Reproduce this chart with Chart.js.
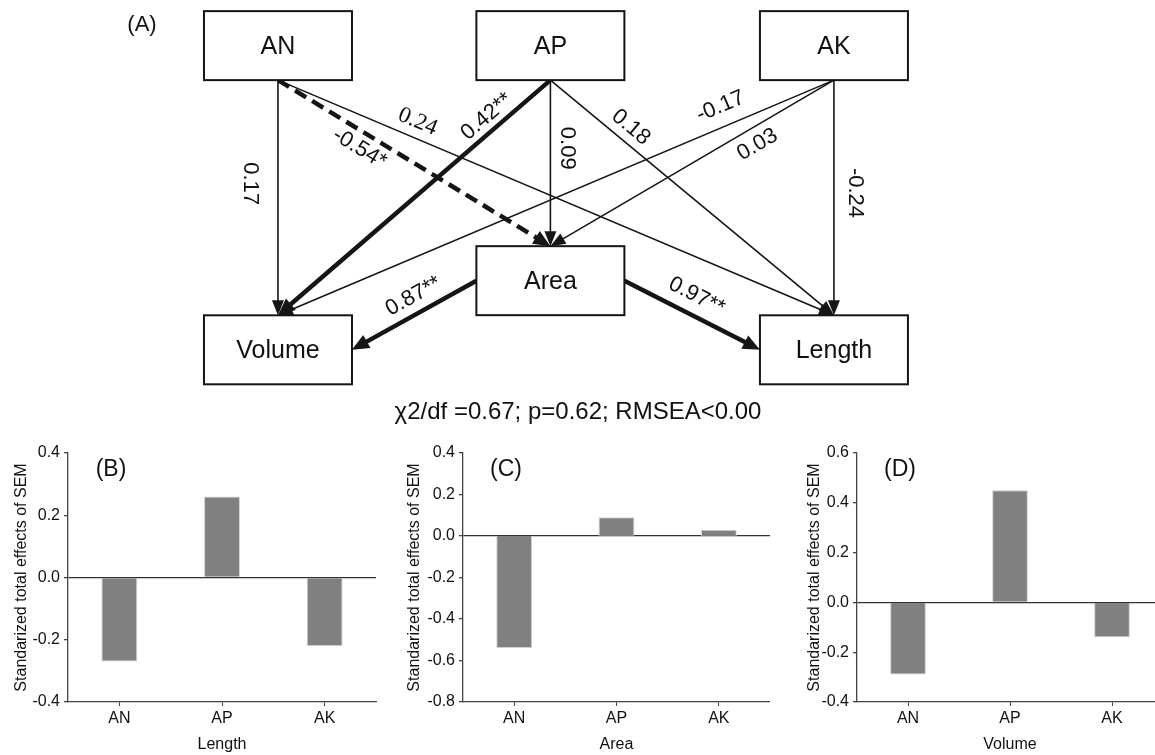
<!DOCTYPE html>
<html>
<head>
<meta charset="utf-8">
<script src="https://cdn.jsdelivr.net/npm/chart.js@4.4.1/dist/chart.umd.min.js"></script>
<style>
  html, body { margin: 0; padding: 0; background: #fff; width: 1155px; height: 755px; overflow: hidden; }
  canvas { position: absolute; }
</style>
</head>
<body>
<canvas id="sem" width="1155" height="430" style="left:0px;top:0px"></canvas>
<canvas id="barB" width="385" height="325" style="left:0px;top:430px"></canvas>
<canvas id="barC" width="385" height="325" style="left:385px;top:430px"></canvas>
<canvas id="barD" width="395" height="325" style="left:770px;top:430px"></canvas>
<script>
// path model: nodes and standardized path coefficients
const nodeNames = ['AN', 'AP', 'AK', 'Area', 'Volume', 'Length'];
const edgeFrom = ['AN', 'AN', 'AN', 'AP', 'AP', 'AP', 'AK', 'AK', 'AK', 'Area', 'Area'];
const edgeTo = ['Volume', 'Area', 'Length', 'Volume', 'Area', 'Length', 'Volume', 'Area', 'Length', 'Volume', 'Length'];
const edgeCoef = ['0.17', '-0.54*', '0.24', '0.42**', '0.09', '0.18', '-0.17', '0.03', '-0.24', '0.87**', '0.97**'];
const fitText = 'χ2/df =0.67; p=0.62; RMSEA<0.00';

// total effects (panels B-D)
const factors = ['AN', 'AP', 'AK'];
const lengthEffects = [-0.27, 0.26, -0.22];
const areaEffects = [-0.54, 0.09, 0.03];
const volumeEffects = [-0.29, 0.45, -0.14];

// diagram layout (grid column / row of each node) and label placement along edges
const nodeCol = [0, 0.98, 2, 0.98, 0, 2];
const nodeRow = [0, 0, 0, 1.7, 2.2, 2.2];
const labelPlace = [[0.44, -28], [0.33, -16], [0.24, 16], [0.20, 14], [0.41, 16.5], [0.25, 15],
                    [0.19, 20], [0.30, -17], [0.48, 21], [0.44, 17], [0.47, 19]];
const labelSerif = [false, false, true, false, false, false, false, false, false, false, false];

const SANS = "'Liberation Sans', Arial, Helvetica, sans-serif";
const SERIF = "'Liberation Serif', 'Times New Roman', serif";
const BOX_W = 148, BOX_H = 69;
const INK = '#151515';

Chart.defaults.font.family = SANS;
Chart.defaults.color = '#111';

function anchors(a, b) {
  if (Math.abs(b.y - a.y) > BOX_H * 1.5) {
    return [{x: a.x, y: a.y + BOX_H / 2}, {x: b.x, y: b.y - BOX_H / 2}];
  }
  const s = Math.sign(b.x - a.x);
  return [{x: a.x + s * BOX_W / 2, y: a.y}, {x: b.x - s * BOX_W / 2, y: b.y}];
}

function drawArrow(ctx, a, b, w, dashed) {
  const dx = b.x - a.x, dy = b.y - a.y, len = Math.hypot(dx, dy);
  const ux = dx / len, uy = dy / len;
  const hl = w > 3 ? 17 : 15, hw = w > 3 ? 7.5 : 6;
  ctx.strokeStyle = INK;
  ctx.lineWidth = w;
  ctx.setLineDash(dashed ? [13, 7] : []);
  ctx.beginPath();
  ctx.moveTo(a.x, a.y);
  ctx.lineTo(b.x - ux * hl * 0.9, b.y - uy * hl * 0.9);
  ctx.stroke();
  ctx.setLineDash([]);
  ctx.fillStyle = INK;
  ctx.beginPath();
  ctx.moveTo(b.x, b.y);
  ctx.lineTo(b.x - ux * hl - uy * hw, b.y - uy * hl + ux * hw);
  ctx.lineTo(b.x - ux * hl + uy * hw, b.y - uy * hl - ux * hw);
  ctx.closePath();
  ctx.fill();
}

const semDraw = {
  id: 'semDraw',
  afterDatasetsDraw(chart) {
    const {ctx, scales: {x, y}} = chart;
    const pos = {};
    nodeNames.forEach((n, i) => {
      pos[n] = {x: x.getPixelForValue(nodeCol[i]), y: y.getPixelForValue(nodeRow[i])};
    });
    ctx.save();
    ctx.lineCap = 'butt';

    // paths
    edgeFrom.forEach((f, i) => {
      const [a, b] = anchors(pos[f], pos[edgeTo[i]]);
      const coef = edgeCoef[i];
      const sig = coef.includes('*');
      drawArrow(ctx, a, b, sig ? 4.5 : 1.6, sig && coef.startsWith('-'));
    });

    // boxes
    nodeNames.forEach(n => {
      const p = pos[n];
      ctx.fillStyle = '#fff';
      ctx.fillRect(p.x - BOX_W / 2, p.y - BOX_H / 2, BOX_W, BOX_H);
      ctx.strokeStyle = INK;
      ctx.lineWidth = 2;
      ctx.strokeRect(p.x - BOX_W / 2, p.y - BOX_H / 2, BOX_W, BOX_H);
      ctx.fillStyle = '#111';
      ctx.font = '25px ' + SANS;
      ctx.textAlign = 'center';
      ctx.textBaseline = 'middle';
      ctx.fillText(n, p.x, p.y + 1);
    });

    // coefficients
    edgeFrom.forEach((f, i) => {
      const [a, b] = anchors(pos[f], pos[edgeTo[i]]);
      let ang = Math.atan2(b.y - a.y, b.x - a.x);
      if (ang > Math.PI / 2 + 1e-6) ang -= Math.PI;
      else if (ang < -Math.PI / 2) ang += Math.PI;
      const [t, off] = labelPlace[i];
      const lx = a.x + t * (b.x - a.x) + off * Math.sin(ang);
      const ly = a.y + t * (b.y - a.y) - off * Math.cos(ang);
      ctx.save();
      ctx.translate(lx, ly);
      ctx.rotate(ang);
      ctx.fillStyle = '#111';
      ctx.font = (labelSerif[i] ? '23px ' + SERIF : '22px ' + SANS);
      ctx.textAlign = 'center';
      ctx.textBaseline = 'middle';
      ctx.fillText(edgeCoef[i], 0, 0);
      ctx.restore();
    });

    ctx.fillStyle = '#111';
    ctx.font = '22px ' + SANS;
    ctx.textAlign = 'center';
    ctx.textBaseline = 'middle';
    ctx.fillText('(A)', 142, 25);
    ctx.font = '24px ' + SANS;
    ctx.fillText(fitText, 578, 412);
    ctx.restore();
  }
};

new Chart(document.getElementById('sem'), {
  type: 'scatter',
  data: {
    datasets: [{
      data: nodeNames.map((n, i) => ({x: nodeCol[i], y: nodeRow[i]})),
      pointRadius: 0
    }]
  },
  options: {
    responsive: false,
    animation: false,
    events: [],
    layout: {padding: 0},
    plugins: {legend: {display: false}, tooltip: {enabled: false}},
    scales: {
      x: {display: false, min: -1, max: 3.155},
      y: {display: false, reverse: true, min: -0.33, max: 2.78}
    }
  },
  plugins: [semDraw]
});

const panelTag = {
  id: 'panelTag',
  afterDraw(chart, args, opts) {
    const {ctx, chartArea} = chart;
    ctx.save();
    ctx.fillStyle = '#111';
    ctx.font = '23px ' + SANS;
    ctx.textAlign = 'center';
    ctx.textBaseline = 'middle';
    ctx.fillText(opts.text, chartArea.left + 43, chartArea.top + 17);
    ctx.restore();
  }
};

function barChart(id, xTitle, values, yMin, yMax, tag, axisW, padRight, titlePad) {
  return new Chart(document.getElementById(id), {
    type: 'bar',
    data: {
      labels: factors,
      datasets: [{
        data: values,
        backgroundColor: '#808080',
        borderColor: '#d0d0d0',
        borderWidth: 1,
        barPercentage: 0.35,
        categoryPercentage: 1
      }]
    },
    options: {
      responsive: false,
      animation: false,
      events: [],
      layout: {padding: {top: 23, right: padRight, bottom: 0, left: 0}},
      plugins: {legend: {display: false}, tooltip: {enabled: false}, panelTag: {text: tag}},
      scales: {
        x: {
          offset: true,
          grid: {display: true, drawOnChartArea: false, drawTicks: true, tickLength: 4, offset: false, tickColor: '#444'},
          border: {display: true, color: '#444', width: 1.3},
          ticks: {color: '#111', font: {size: 16}, padding: 3},
          title: {display: true, text: xTitle, color: '#111', font: {size: 16}, padding: {top: 0, bottom: 1}},
          afterFit: s => { s.height = 53; }
        },
        y: {
          min: yMin,
          max: yMax,
          ticks: {
            stepSize: 0.2,
            color: '#111',
            font: {size: 16},
            padding: 4,
            callback: v => Math.abs(v) < 1e-9 ? '0.0' : Number(v).toFixed(1)
          },
          grid: {
            drawTicks: true,
            tickLength: 4,
            tickColor: '#444',
            lineWidth: 1.3,
            color: c => (c.tick && Math.abs(c.tick.value) < 1e-9) ? '#333' : 'rgba(0,0,0,0)'
          },
          border: {display: true, color: '#444', width: 1.3},
          title: {display: true, text: 'Standarized total effects of SEM', color: '#111', font: {size: 16}, padding: {top: titlePad, bottom: 0}},
          afterFit: s => { s.width = axisW; }
        }
      }
    },
    plugins: [panelTag]
  });
}

barChart('barB', 'Length', lengthEffects, -0.4, 0.4, '(B)', 68, 9, 11.6);
barChart('barC', 'Area', areaEffects, -0.8, 0.4, '(C)', 78, 0, 19.6);
barChart('barD', 'Volume', volumeEffects, -0.4, 0.6, '(D)', 87, 2, 34.6);
</script>
</body>
</html>
